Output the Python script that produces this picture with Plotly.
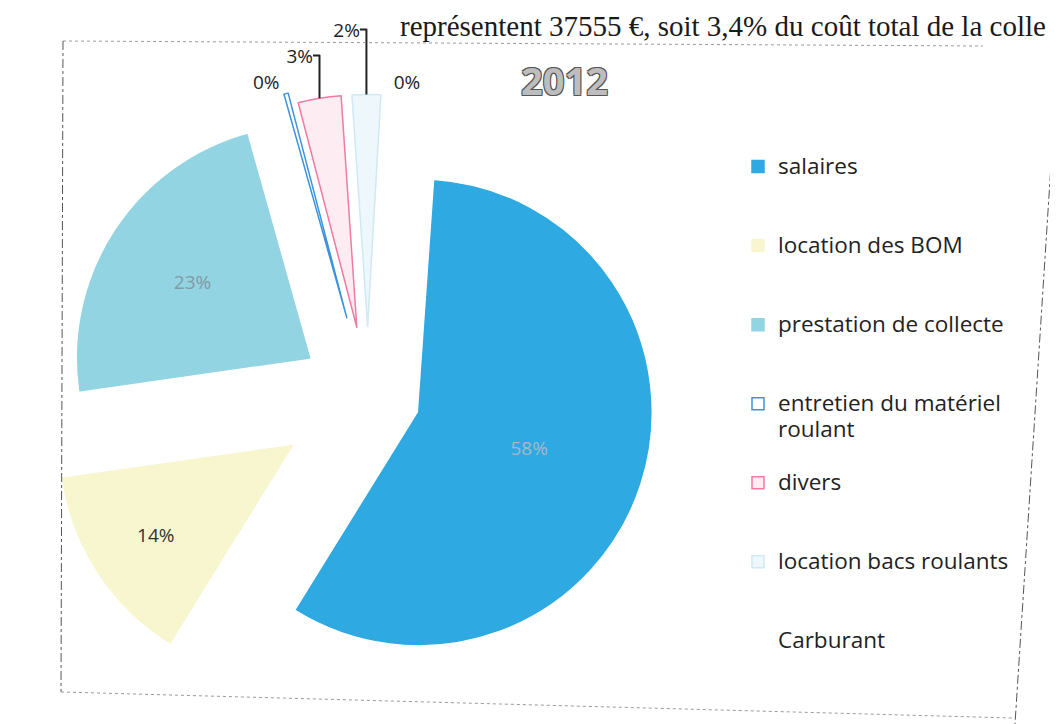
import plotly.graph_objects as go

# ---- data ----
categories = ["salaires", "location des BOM", "prestation de collecte",
              "entretien du matériel<br>roulant", "divers",
              "location bacs roulants", "Carburant"]
values = [58, 14, 23, 0.3, 3, 2, 0.2]
slice_colors = ["#2ea9e1", "#f8f6cf", "#93d4e2", "#ffffff", "#fdecf2", "#eef8fc", "#ffffff"]
edge_colors = ["#2ea9e1", "#f8f6cf", "#93d4e2", "#3d93db", "#f07aa5", "#cfe9f5", "#ffffff"]
pulls = [0.23, 0.39, 0.30, 0.35, 0.30, 0.30, 0.30]
text_pos = ["inside", "inside", "inside", "outside", "outside", "outside", "outside"]
inside_font_colors = ["#a9b8c8", "#333333", "#7e9aa6", "#222222", "#222222", "#222222", "#222222"]
title_text = "2012"
header_text = "représentent 37555 €, soit 3,4% du coût total de la colle"

W, H = 1058, 724

# legend entries padded with blank lines so that entries are spread out like the reference
def pad(c):
    body = "<br>".join("<span style='font-size:22.5px'>" + part + "</span>" for part in c.split("<br>"))
    return "&nbsp;<br>" + body + ("" if "<br>" in c else "<br>&nbsp;")

legend_labels = [pad(c) for c in categories]

fig = go.Figure()
fig.add_trace(go.Pie(
    labels=legend_labels,
    customdata=categories,
    values=values,
    sort=False,
    direction="clockwise",
    rotation=4,
    pull=pulls,
    marker=dict(colors=slice_colors, line=dict(color=edge_colors, width=1.5)),
    texttemplate="%{percent:.0%}",
    hovertemplate="%{customdata}: %{percent:.1%}<extra></extra>",
    textposition=text_pos,
    insidetextorientation="horizontal",
    textfont=dict(family="Open Sans", size=19, color=inside_font_colors),
    outsidetextfont=dict(family="Open Sans", size=19, color="#222222"),
    domain=dict(x=[37.5 / W, 682.5 / W], y=[1 - 710.5 / H, 1 - 65.5 / H]),
))

fig.update_layout(
    width=W, height=H,
    margin=dict(l=0, r=0, t=0, b=0, autoexpand=False),
    paper_bgcolor="white",
    plot_bgcolor="white",
    showlegend=True,
    legend=dict(
        x=730 / W, xanchor="left",
        y=1 - 114 / H, yanchor="top",
        font=dict(family="Open Sans", size=19.5, color="#222222"),
        bgcolor="rgba(0,0,0,0)",
    ),
    annotations=[
        dict(text=title_text, x=556 / W, y=1 - 72 / H, xref="paper", yref="paper",
             showarrow=False, xanchor="center", yanchor="middle",
             font=dict(family="Open Sans", size=38, color="#bdbdbd", weight="bold",
                       shadow="1px 1px 0 #555, -1px -1px 0 #555, 1px -1px 0 #555, -1px 1px 0 #555")),
        dict(text=header_text, x=1040 / W, y=1, xref="paper", yref="paper",
             showarrow=False, xanchor="right", yanchor="top",
             font=dict(family="Liberation Serif", size=29, color="#1a1a1a")),
    ],
    shapes=[
        dict(type="line", xref="paper", yref="paper", x0=55 / W, y0=1 - 33 / H, x1=975 / W, y1=1 - 38 / H,
             line=dict(color="#9a9a9a", width=1, dash="dot")),
        dict(type="line", xref="paper", yref="paper", x0=55 / W, y0=1 - 33 / H, x1=53 / W, y1=1 - 684 / H,
             line=dict(color="#555555", width=1, dash="dashdot")),
        dict(type="line", xref="paper", yref="paper", x0=53 / W, y0=1 - 684 / H, x1=1005 / W, y1=1 - 710 / H,
             line=dict(color="#9a9a9a", width=1, dash="dot")),
        dict(type="line", xref="paper", yref="paper", x0=1046 / W, y0=1 - 110 / H, x1=1007 / W, y1=1 - 716 / H,
             line=dict(color="#555555", width=1, dash="dashdot")),
    ],
)

fig.write_html("out.html")
